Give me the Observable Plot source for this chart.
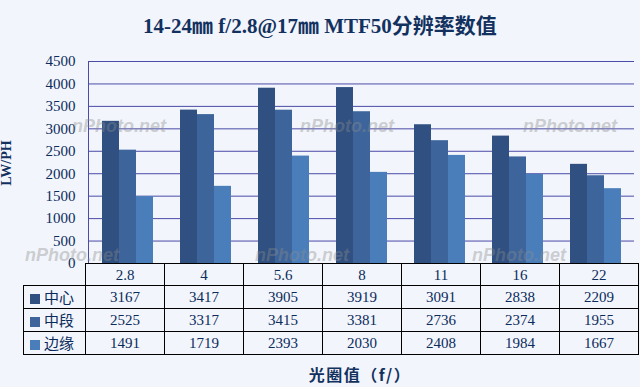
<!DOCTYPE html>
<html><head><meta charset="utf-8">
<script src="https://cdn.jsdelivr.net/npm/d3@7"></script>
<script src="https://cdn.jsdelivr.net/npm/@observablehq/plot@0.6"></script>
<style>
body{margin:0;background:#F2F5FB;}
#c{position:relative;width:640px;height:387px;background:#F2F5FB;overflow:hidden;font-family:"Liberation Serif","Noto Sans CJK SC",serif;color:#0B2B5B}
#title{position:absolute;left:0;width:640px;top:13px;text-align:center;font-size:21px;line-height:26px;font-weight:bold;color:#12315F;white-space:nowrap}
#plot{position:absolute;left:0;top:0}
#ylab{position:absolute;left:7px;top:163px;transform:translate(-50%,-50%) rotate(-90deg);font-weight:bold;font-size:14px;white-space:nowrap;color:#12315F}
table{position:absolute;left:23px;top:263px;border-collapse:collapse;table-layout:fixed}
td{border:1px solid #000;text-align:center;font-size:15px;padding:0;height:22px;line-height:20px;color:#0B2B5B}
tr.h td{height:21px}
td.leg{text-align:left;padding-left:6px;font-family:"Noto Sans CJK SC";font-size:15px}
td.leg span{display:inline-block;width:10px;height:10px;margin-right:4px;vertical-align:-1px}
#xlab{position:absolute;left:360px;top:374px;transform:translate(-50%,-50%);font-weight:bold;font-size:16px;letter-spacing:1.5px;font-family:"Noto Sans CJK SC";color:#12315F;white-space:nowrap}
.wm{position:absolute;font:italic bold 18px "Liberation Sans",Arial,sans-serif;line-height:18px;color:rgba(140,140,140,0.4);white-space:nowrap}
</style></head>
<body>
<div id="c">
  <div id="plot"></div>
  <div id="title">14-24㎜ f/2.8@17㎜ MTF50分辨率数值</div>
  <div id="ylab">LW/PH</div>
  <div id="xlab">光圈值（f/）</div>
</div>
<script>
const apertures = ["2.8","4","5.6","8","11","16","22"];
const series = ["中心","中段","边缘"];
const center = [3167,3417,3905,3919,3091,2838,2209];
const middle = [2525,3317,3415,3381,2736,2374,1955];
const edge   = [1491,1719,2393,2030,2408,1984,1667];
const yTicks = [0,500,1000,1500,2000,2500,3000,3500,4000,4500];
const colors = ["#2F5080","#3D659B","#4A7EBB"];
const watermark = "nPhoto.net";

const rows = [center, middle, edge];
const data = apertures.flatMap((a,i)=>series.map((s,j)=>({aperture:a, series:s, value:rows[j][i]})));

const chart = Plot.plot({
  width:640, height:274, marginTop:61, marginBottom:11, marginLeft:85, marginRight:3,
  style:{background:"transparent", fontFamily:"'Liberation Serif','Noto Sans CJK SC',serif", fontSize:"15px", color:"#0B2B5B"},
  fx:{domain:apertures, padding:0, axis:null},
  x:{domain:series, paddingInner:0, paddingOuter:0.757, axis:null},
  y:{domain:[0,4500], axis:null},
  color:{domain:series, range:colors},
  marks:[
    Plot.gridY(yTicks, {stroke:"#4B4BA8", strokeOpacity:1}),
    Plot.barY(data, {fx:"aperture", x:"series", y:"value", fill:"series"}),
    Plot.ruleY([0], {stroke:"#000"}),
    Plot.axisY(yTicks, {tickSize:0, tickPadding:13, tickFormat:d=>String(d), fill:"#0B2B5B", fontSize:15, label:null}),
    Plot.frame({anchor:"left", stroke:"#4B4BA8", facetAnchor:"left"})
  ]
});
document.getElementById("plot").appendChild(chart);

const c = document.getElementById("c");
// watermarks
[[72,117],[300,117],[523,117],[25,246],[255,246],[472,246]].forEach(([x,y])=>{
  const d=document.createElement("div"); d.className="wm"; d.textContent=watermark;
  d.style.left=x+"px"; d.style.top=y+"px"; c.appendChild(d);
});

// data table
const table = d3.select(c).append("table");
const cg = table.append("colgroup");
cg.append("col").style("width","62px");
apertures.forEach(()=>cg.append("col").style("width","79px"));
const hr = table.append("tr").attr("class","h");
hr.append("td").style("border-top","none").style("border-left","none");
apertures.forEach(a=>hr.append("td").text(a));
series.forEach((s,j)=>{
  const tr = table.append("tr");
  const td = tr.append("td").attr("class","leg");
  td.append("span").style("background",colors[j]);
  td.append("tspan").text(s);
  rows[j].forEach(v=>tr.append("td").text(v));
});
</script>
</body></html>
